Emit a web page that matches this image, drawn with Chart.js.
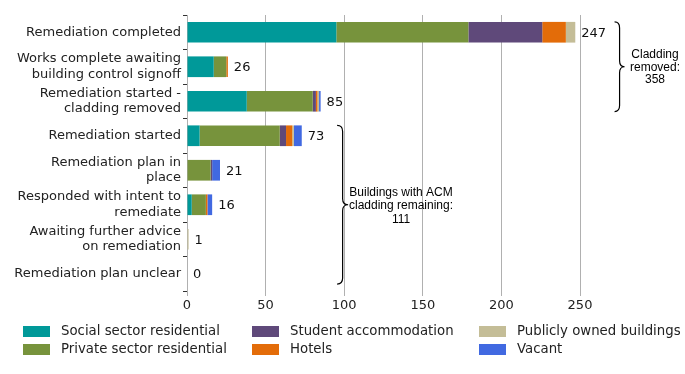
<!DOCTYPE html>
<html>
<head>
<meta charset="utf-8">
<script src="https://cdn.jsdelivr.net/npm/chart.js@4/dist/chart.umd.min.js"></script>
<style>
  body { margin: 0; background: #fff; }
  #wrap { position: relative; width: 685px; height: 374px; }
  .lg { position: absolute; font: 13.3px "DejaVu Sans", sans-serif; color: #222; white-space: nowrap; line-height: 16px; }
  .sw { position: absolute; width: 27px; height: 11px; }
</style>
</head>
<body>
<div id="wrap">
  <canvas id="chart" width="685" height="374"></canvas>
  <div id="legend"></div>
</div>
<script>
const categories = [
  "Remediation completed",
  ["Works complete awaiting", "building control signoff"],
  ["Remediation started -", "cladding removed"],
  "Remediation started",
  ["Remediation plan in", "place"],
  ["Responded with intent to", "remediate"],
  ["Awaiting further advice", "on remediation"],
  "Remediation plan unclear"
];
const seriesNames = ["Social sector residential", "Private sector residential", "Student accommodation",
  "Hotels", "Publicly owned buildings", "Vacant"];
const social = [95, 17, 38, 8, 0, 3, 0, 0];
const privateRes = [84, 8, 42, 51, 15, 9, 0, 0];
const student = [47, 0, 2, 4, 1, 0, 0, 0];
const hotels = [15, 1, 1, 4, 0, 1, 0, 0];
const publicOwned = [6, 0, 1, 1, 0, 0, 1, 0];
const vacant = [0, 0, 1, 5, 5, 3, 0, 0];
const xTicks = [0, 50, 100, 150, 200, 250];
const colors = ["#009999", "#77933C", "#5F497A", "#E36C09", "#C4BD97", "#4169E1"];

const values = [social, privateRes, student, hotels, publicOwned, vacant];
const totals = categories.map((c, i) => values.reduce((s, v) => s + v[i], 0));
const removed = totals.slice(0, 3).reduce((a, b) => a + b, 0);
const remaining = totals.slice(3).reduce((a, b) => a + b, 0);

// end-of-bar totals
const totalLabels = {
  id: "totalLabels",
  afterDatasetsDraw(chart) {
    const ctx = chart.ctx, x = chart.scales.x, y = chart.scales.y;
    ctx.save();
    ctx.font = '13px "DejaVu Sans"';
    ctx.fillStyle = "#111";
    ctx.textBaseline = "middle";
    totals.forEach((t, i) => {
      ctx.fillText(String(t), x.getPixelForValue(t) + 6, y.getPixelForValue(i) + 1);
    });
    ctx.restore();
  }
};

function brace(ctx, xl, top, bot, w) {
  const mid = (top + bot) / 2, xm = xl + w / 2, r = 6;
  ctx.beginPath();
  ctx.moveTo(xl, top);
  ctx.quadraticCurveTo(xm, top, xm, top + r);
  ctx.lineTo(xm, mid - r);
  ctx.quadraticCurveTo(xm, mid, xl + w, mid);
  ctx.quadraticCurveTo(xm, mid, xm, mid + r);
  ctx.lineTo(xm, bot - r);
  ctx.quadraticCurveTo(xm, bot, xl, bot);
  ctx.stroke();
}

const braces = {
  id: "braces",
  afterDraw(chart) {
    const ctx = chart.ctx, x = chart.scales.x, y = chart.scales.y;
    const half = (y.getPixelForValue(1) - y.getPixelForValue(0)) * 0.3;
    ctx.save();
    ctx.strokeStyle = "#000";
    ctx.lineWidth = 1.2;
    brace(ctx, x.getPixelForValue(272), y.getPixelForValue(0) - half, y.getPixelForValue(2) + half, 10);
    brace(ctx, x.getPixelForValue(95.5), y.getPixelForValue(3) - half, y.getPixelForValue(7) + half, 11);
    ctx.fillStyle = "#000";
    ctx.font = '12px "Liberation Sans", Arial';
    ctx.textAlign = "center";
    ctx.textBaseline = "middle";
    const m1 = (y.getPixelForValue(0) + y.getPixelForValue(2)) / 2;
    ["Cladding", "removed:", String(removed)].forEach((s, k) => ctx.fillText(s, 655, m1 - 12 + k * 12.5));
    const m2 = (y.getPixelForValue(3) + y.getPixelForValue(7)) / 2;
    ["Buildings with ACM", "cladding remaining:", String(remaining)].forEach((s, k) => ctx.fillText(s, 401, m2 - 12.5 + k * 13.5));
    ctx.restore();
  }
};

new Chart(document.getElementById("chart"), {
  type: "bar",
  data: {
    labels: categories,
    datasets: values.map((v, i) => ({
      label: seriesNames[i],
      data: v,
      backgroundColor: colors[i],
      borderWidth: 0,
      barPercentage: 0.6,
      categoryPercentage: 1
    }))
  },
  options: {
    indexAxis: "y",
    responsive: false,
    devicePixelRatio: 1,
    animation: false,
    layout: { padding: { top: 15, right: 105, bottom: 61, left: 0 } },
    plugins: { legend: { display: false }, tooltip: { enabled: false } },
    scales: {
      x: {
        stacked: true,
        min: 0,
        max: 250,
        afterBuildTicks: s => { s.ticks = xTicks.map(v => ({ value: v })); },
        afterFit: s => { s.height = 22; },
        border: { display: false },
        grid: { color: "#b0b0b0", lineWidth: 1, tickLength: 5 },
        ticks: { color: "#222", font: { family: "DejaVu Sans", size: 13 }, padding: 2 }
      },
      y: {
        stacked: true,
        afterFit: s => { s.width = 187; },
        border: { display: false },
        grid: { drawOnChartArea: false, tickLength: 4, color: "#333" },
        ticks: { autoSkip: false, color: "#222", font: { family: "DejaVu Sans", size: 13, lineHeight: 1.2 }, padding: 2 }
      }
    }
  },
  plugins: [totalLabels, braces]
});

// legend, three columns filled top to bottom
const legend = document.getElementById("legend");
const colX = [23, 252, 479], rowY = [331, 349];
seriesNames.forEach((name, i) => {
  const c = Math.floor(i / 2), r = i % 2;
  const sw = document.createElement("div");
  sw.className = "sw";
  sw.style.left = colX[c] + "px";
  sw.style.top = (rowY[r] - 5) + "px";
  sw.style.background = colors[i];
  legend.appendChild(sw);
  const t = document.createElement("div");
  t.className = "lg";
  t.style.left = (colX[c] + 38) + "px";
  t.style.top = (rowY[r] - 8) + "px";
  t.textContent = name;
  legend.appendChild(t);
});
</script>
</body>
</html>
